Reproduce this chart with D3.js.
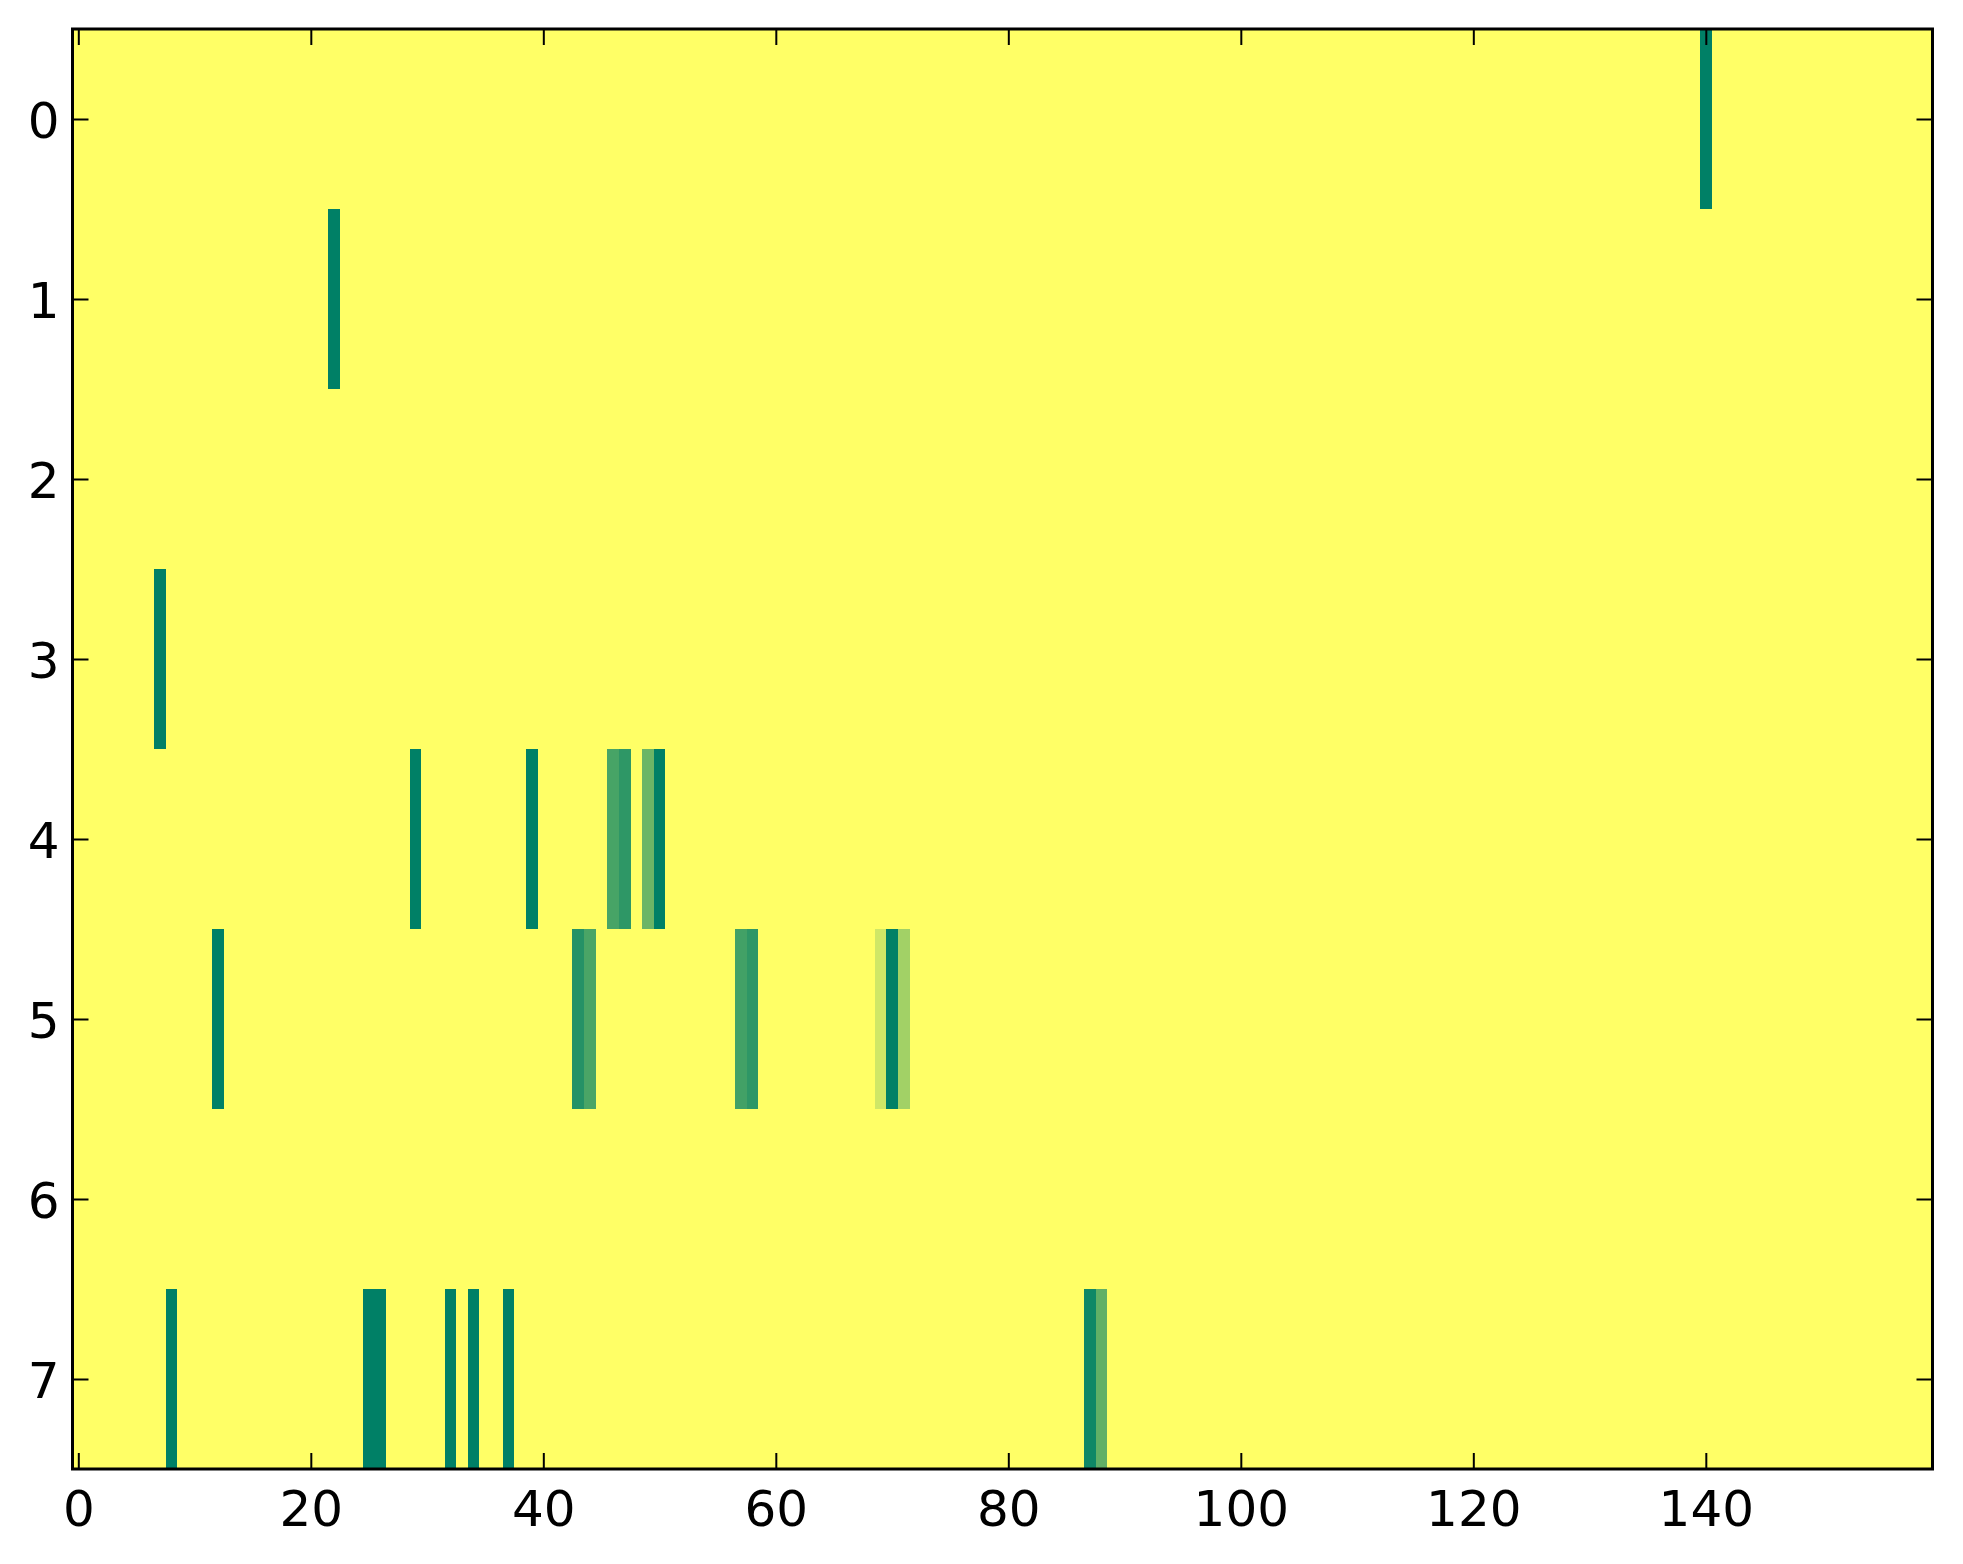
<!DOCTYPE html>
<html>
<head>
<meta charset="utf-8">
<script src="https://cdn.jsdelivr.net/npm/d3@7"></script>
<style>
  html, body { margin: 0; padding: 0; background: #ffffff; }
  svg { display: block; }
  text { font-family: "DejaVu Sans", sans-serif; }
</style>
</head>
<body>
<script>
// ---- data ----
const nRows = 8;
const nCols = 160;
const rowLabels = [0, 1, 2, 3, 4, 5, 6, 7];
const xTickValues = [0, 20, 40, 60, 80, 100, 120, 140];
// non-zero cells (row, column, value); all other cells are 0
const cellRows =   [0,   1,  3, 4,  4,  4,    4,    4,    4, 5,  5,     5,    5,    5,    5,    5,    5,     7, 7,  7,  7,  7,  7,  7,    7];
const cellCols =   [140, 22, 7, 29, 39, 46,   47,   49,   50, 12, 43,    44,   57,   58,   69,   70,   71,    8, 25, 26, 32, 34, 37, 87,   88];
const cellValues = [1,   1,  1, 1,  1,  0.72, 0.82, 0.58, 1, 1,  0.855, 0.71, 0.74, 0.82, 0.19, 1,    0.365, 1, 1,  1,  1,  1,  1,  0.94, 0.62];

(function () {
  // build matrix
  const matrix = [];
  for (let r = 0; r < nRows; r++) for (let c = 0; c < nCols; c++) matrix.push({ r, c, v: 0 });
  cellRows.forEach((r, i) => { matrix[r * nCols + cellCols[i]].v = cellValues[i]; });

  const W = 1963, H = 1564;
  const mLeft = 72.5, mRight = 1932.5, mTop = 29, mBottom = 1469;

  const svg = d3.select("body").append("svg").attr("width", W).attr("height", H);

  const x = d3.scaleLinear().domain([-0.5, nCols - 0.5]).range([mLeft, mRight]);
  const y = d3.scaleLinear().domain([-0.5, nRows - 0.5]).range([mTop, mBottom]);
  // summer_r colormap
  const color = d3.scaleLinear().domain([0, 1]).range(["#ffff66", "#008066"]);

  svg.append("g").selectAll("rect").data(matrix).join("rect")
    .attr("x", d => x(d.c - 0.5))
    .attr("y", d => y(d.r - 0.5))
    .attr("width", d => x(d.c + 0.5) - x(d.c - 0.5) + 0.4)
    .attr("height", d => y(d.r + 0.5) - y(d.r - 0.5) + 0.4)
    .attr("fill", d => color(d.v))
    .attr("shape-rendering", "crispEdges");

  const tickLen = 16;
  const gx = svg.append("g").attr("transform", `translate(0,${mBottom})`)
    .call(d3.axisBottom(x).tickValues(xTickValues).tickSize(-tickLen).tickFormat(d3.format("d")));
  const gxt = svg.append("g").attr("transform", `translate(0,${mTop})`)
    .call(d3.axisTop(x).tickValues(xTickValues).tickSize(-tickLen).tickFormat(""));
  const gy = svg.append("g").attr("transform", `translate(${mLeft},0)`)
    .call(d3.axisLeft(y).tickValues(rowLabels).tickSize(-tickLen).tickFormat(d3.format("d")));
  const gyr = svg.append("g").attr("transform", `translate(${mRight},0)`)
    .call(d3.axisRight(y).tickValues(rowLabels).tickSize(-tickLen).tickFormat(""));

  [gx, gxt, gy, gyr].forEach(g => {
    g.select(".domain").remove();
    g.selectAll(".tick line").attr("stroke", "#000").attr("stroke-width", 2);
  });
  gx.selectAll(".tick text").attr("font-size", 50).attr("fill", "#000").attr("dy", null).attr("y", 57);
  gy.selectAll(".tick text").attr("font-size", 50).attr("fill", "#000").attr("dy", "0.36em").attr("x", -13);

  // frame
  svg.append("rect").attr("x", mLeft).attr("y", mTop)
    .attr("width", mRight - mLeft).attr("height", mBottom - mTop)
    .attr("fill", "none").attr("stroke", "#000").attr("stroke-width", 3);
})();
</script>
</body>
</html>
